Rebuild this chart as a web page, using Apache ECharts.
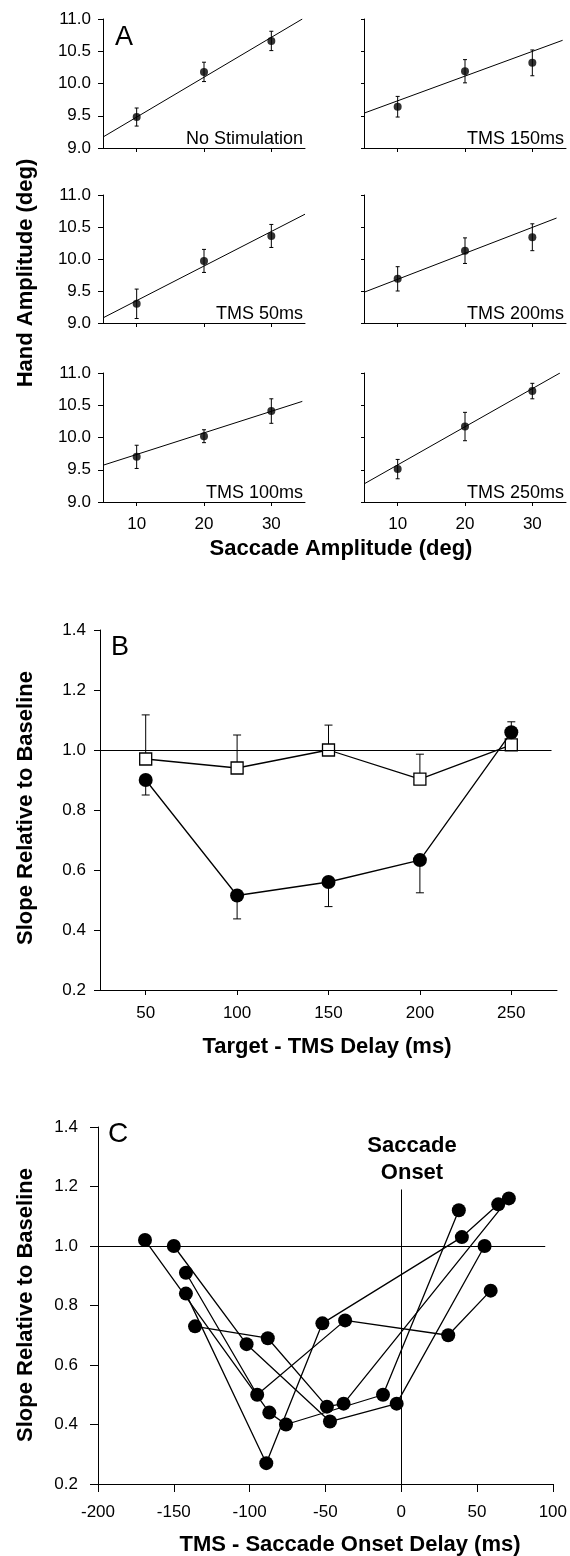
<!DOCTYPE html>
<html><head><meta charset="utf-8">
<script src="https://cdn.jsdelivr.net/npm/echarts@6/dist/echarts.min.js"></script>
<style>html,body{margin:0;padding:0;background:#fff}#c{width:570px;height:1556px}</style>
</head><body><div id="c"></div>
<script>
// ---------------- DATA ----------------
// Panel A: hand amplitude vs saccade amplitude
const saccadeAmplitude = [10, 20, 30];
const xTicksA = [10, 20, 30];
const handNoStim = [9.48, 10.18, 10.66];
const errNoStim  = [0.14, 0.15, 0.15];
const fitNoStim  = [[5, 9.17], [34.6, 11.0]];
const hand150 = [9.64, 10.19, 10.32];
const err150  = [0.16, 0.18, 0.20];
const fit150  = [[5, 9.54], [34.5, 10.67]];
const hand50 = [9.30, 9.97, 10.36];
const err50  = [0.23, 0.18, 0.18];
const fit50  = [[5, 9.08], [35, 10.70]];
const hand200 = [9.69, 10.13, 10.34];
const err200  = [0.19, 0.20, 0.21];
const fit200  = [[5, 9.48], [33.6, 10.64]];
const hand100 = [9.70, 10.02, 10.41];
const err100  = [0.18, 0.10, 0.19];
const fit100  = [[5, 9.57], [34.6, 10.56]];
const hand250 = [9.51, 10.17, 10.72];
const err250  = [0.15, 0.22, 0.12];
const fit250  = [[5, 9.28], [34.1, 11.0]];
const panelLabelsA = ['No Stimulation', 'TMS 150ms', 'TMS 50ms', 'TMS 200ms', 'TMS 100ms', 'TMS 250ms'];

// Panel B: slope relative to baseline vs target-TMS delay
const tmsDelay = [50, 100, 150, 200, 250];
const slopeTMS = [0.90, 0.515, 0.56, 0.633, 1.059];
const slopeTMSErrEnd = [0.85, 0.437, 0.478, 0.524, 1.094];
const slopeControl = [0.97, 0.94, 1.0, 0.903, 1.017];
const slopeControlErrEnd = [1.117, 1.05, 1.083, 0.986, null];

// Panel C: individual subjects, TMS - saccade onset delay
const subject1 = [[-169, 1.02], [-87, 0.44], [-76, 0.40], [-12, 0.50], [38, 1.12]];
const subject2 = [[-150, 1.00], [-102, 0.67], [-47, 0.41], [-3, 0.47], [55, 1.00]];
const subject3 = [[-142, 0.91], [-95, 0.50], [-37, 0.75], [31, 0.70], [59, 0.85]];
const subject4 = [[-142, 0.84], [-89, 0.27], [-52, 0.74], [40, 1.03], [64, 1.14]];
const subject5 = [[-136, 0.73], [-88, 0.69], [-49, 0.46], [-38, 0.47], [71, 1.16]];
const saccadeOnsetLineTop = 1.19;

// ---------------- CHART ----------------
const FONT = '"Liberation Sans", Arial, Helvetica, sans-serif';
const chart = echarts.init(document.getElementById('c'), null, {renderer: 'canvas'});

function errRender(capHalf) {
  return function (params, api) {
    const x = api.value(0), lo = api.value(1), hi = api.value(2);
    const a = api.coord([x, lo]), b = api.coord([x, hi]);
    const st = {stroke: '#000', lineWidth: 1};
    return {type: 'group', children: [
      {type: 'line', shape: {x1: a[0], y1: a[1], x2: b[0], y2: b[1]}, style: st},
      {type: 'line', shape: {x1: a[0] - capHalf, y1: a[1], x2: a[0] + capHalf, y2: a[1]}, style: st},
      {type: 'line', shape: {x1: b[0] - capHalf, y1: b[1], x2: b[0] + capHalf, y2: b[1]}, style: st}
    ]};
  };
}

const axisLine = {show: true, onZero: false, lineStyle: {color: '#000', width: 1}};
const grids = [], xAxes = [], yAxes = [], series = [], graphics = [];

// Panel A layout
const colLeft = [103, 364], rowTop = [19, 195, 373], rowH = [129, 128, 129], gw = 202;
const panelsA = [
  {hand: handNoStim, err: errNoStim, fit: fitNoStim},
  {hand: hand150, err: err150, fit: fit150},
  {hand: hand50, err: err50, fit: fit50},
  {hand: hand200, err: err200, fit: fit200},
  {hand: hand100, err: err100, fit: fit100},
  {hand: hand250, err: err250, fit: fit250}
];
panelsA.forEach((p, i) => {
  const col = i % 2, row = Math.floor(i / 2);
  grids.push({left: colLeft[col], top: rowTop[row], width: gw, height: rowH[row]});
  xAxes.push({gridIndex: i, type: 'value', min: 5, max: 35,
    axisLine: axisLine,
    axisTick: {show: true, length: 4, customValues: xTicksA, lineStyle: {color: '#000'}},
    axisLabel: {show: row === 2, customValues: xTicksA, margin: 14, fontSize: 17, color: '#000', fontFamily: FONT},
    splitLine: {show: false}});
  yAxes.push({gridIndex: i, type: 'value', min: 9, max: 11, interval: 0.5,
    axisLine: axisLine,
    axisTick: {show: true, length: col === 0 ? 5 : 3, lineStyle: {color: '#000'}},
    axisLabel: {show: col === 0, margin: 12, fontSize: 17, color: '#000', fontFamily: FONT,
      formatter: v => v.toFixed(1)},
    splitLine: {show: false}});
  series.push({type: 'custom', xAxisIndex: i, yAxisIndex: i, z: 1, silent: true,
    renderItem: errRender(2),
    encode: {x: 0, y: [1, 2]},
    data: saccadeAmplitude.map((x, k) => [x, p.hand[k] - p.err[k], p.hand[k] + p.err[k]])});
  series.push({type: 'line', xAxisIndex: i, yAxisIndex: i, z: 2, silent: true,
    symbol: 'none', lineStyle: {color: '#000', width: 1}, data: p.fit});
  series.push({type: 'scatter', xAxisIndex: i, yAxisIndex: i, z: 3, silent: true,
    symbol: 'circle', symbolSize: 8, itemStyle: {color: '#000'},
    data: saccadeAmplitude.map((x, k) => [x, p.hand[k]])});
  graphics.push({type: 'text', x: colLeft[col] + gw - 2, y: rowTop[row] + rowH[row] - 9,
    style: {text: panelLabelsA[i], font: '18px ' + FONT, fill: '#000',
      align: 'right', verticalAlign: 'middle', textAlign: 'right', textVerticalAlign: 'middle'}});
});

// Panel B
const gB = 6;
grids.push({left: 100, top: 630, width: 457, height: 360});
xAxes.push({gridIndex: gB, type: 'value', min: 25, max: 275,
  axisLine: axisLine,
  axisTick: {show: true, length: 5, customValues: tmsDelay, lineStyle: {color: '#000'}},
  axisLabel: {customValues: tmsDelay, margin: 15, fontSize: 17, color: '#000', fontFamily: FONT},
  splitLine: {show: false}});
yAxes.push({gridIndex: gB, type: 'value', min: 0.2, max: 1.4, interval: 0.2,
  axisLine: axisLine,
  axisTick: {show: true, length: 6, lineStyle: {color: '#000'}},
  axisLabel: {margin: 14, fontSize: 17, color: '#000', fontFamily: FONT, formatter: v => v.toFixed(1)},
  splitLine: {show: false}});
series.push({type: 'custom', xAxisIndex: gB, yAxisIndex: gB, z: 1, silent: true,
  renderItem: errRender(4), encode: {x: 0, y: [1, 2]},
  data: tmsDelay.map((x, k) => [x, slopeTMS[k], slopeTMSErrEnd[k]])
    .concat(tmsDelay.map((x, k) => [x, slopeControl[k], slopeControlErrEnd[k]]).filter(d => d[2] !== null)),
  markLine: {silent: true, symbol: 'none', label: {show: false},
    lineStyle: {color: '#000', width: 1, type: 'solid'},
    data: [[{coord: [25, 1]}, {coord: [272, 1]}]]}});
series.push({type: 'line', xAxisIndex: gB, yAxisIndex: gB, z: 3, silent: true,
  symbol: 'rect', symbolSize: 12, showAllSymbol: true,
  lineStyle: {color: '#000', width: 1.3},
  itemStyle: {color: '#fff', borderColor: '#000', borderWidth: 1.3},
  data: tmsDelay.map((x, k) => [x, slopeControl[k]])});
series.push({type: 'line', xAxisIndex: gB, yAxisIndex: gB, z: 4, silent: true,
  symbol: 'circle', symbolSize: 14, showAllSymbol: true,
  lineStyle: {color: '#000', width: 1.3},
  itemStyle: {color: '#000'},
  data: tmsDelay.map((x, k) => [x, slopeTMS[k]])});

// Panel C
const gC = 7;
grids.push({left: 98, top: 1127, width: 458, height: 357});
xAxes.push({gridIndex: gC, type: 'value', min: -200, max: 100, interval: 50,
  axisLine: axisLine,
  axisTick: {show: true, length: 8, lineStyle: {color: '#000'}},
  axisLabel: {margin: 20, fontSize: 17, color: '#000', fontFamily: FONT},
  splitLine: {show: false}});
yAxes.push({gridIndex: gC, type: 'value', min: 0.2, max: 1.4, interval: 0.2,
  axisLine: axisLine,
  axisTick: {show: true, length: 8, lineStyle: {color: '#000'}},
  axisLabel: {margin: 20, fontSize: 17, color: '#000', fontFamily: FONT, formatter: v => v.toFixed(1)},
  splitLine: {show: false}});
[subject1, subject2, subject3, subject4, subject5].forEach((s, k) => {
  series.push({type: 'line', xAxisIndex: gC, yAxisIndex: gC, z: 3, silent: true,
    symbol: 'circle', symbolSize: 14, showAllSymbol: true,
    lineStyle: {color: '#000', width: 1.3}, itemStyle: {color: '#000'},
    data: s,
    markLine: k === 0 ? {silent: true, symbol: 'none', label: {show: false},
      lineStyle: {color: '#000', width: 1, type: 'solid'},
      data: [[{coord: [-200, 1]}, {coord: [95, 1]}],
             [{coord: [0, 0.2]}, {coord: [0, saccadeOnsetLineTop]}]]} : undefined});
});

// Text elements
function txt(t, x, y, size, bold, align, rot) {
  const g = {type: 'text', x: x, y: y, rotation: rot || 0,
    style: {text: t, font: (bold ? 'bold ' : '') + size + 'px ' + FONT, fill: '#000',
      align: align || 'center', verticalAlign: 'middle',
      textAlign: align || 'center', textVerticalAlign: 'middle'}};
  graphics.push(g);
}
txt('A', 115, 37.5, 27, false, 'left');
txt('B', 111, 647.5, 27, false, 'left');
txt('C', 108, 1134, 28, false, 'left');
txt('Hand Amplitude (deg)', 26, 273, 22, true, 'center', Math.PI / 2);
txt('Saccade Amplitude (deg)', 341, 549, 22, true, 'center');
txt('Slope Relative to Baseline', 26, 808, 22, true, 'center', Math.PI / 2);
txt('Target - TMS Delay (ms)', 327, 1047, 22, true, 'center');
txt('Slope Relative to Baseline', 26, 1305, 22, true, 'center', Math.PI / 2);
txt('TMS - Saccade Onset Delay (ms)', 350, 1545, 22, true, 'center');
txt('Saccade', 412, 1146, 22, true, 'center');
txt('Onset', 412, 1173, 22, true, 'center');

chart.setOption({
  animation: false,
  backgroundColor: '#fff',
  grid: grids, xAxis: xAxes, yAxis: yAxes, series: series,
  graphic: graphics
});
</script></body></html>
